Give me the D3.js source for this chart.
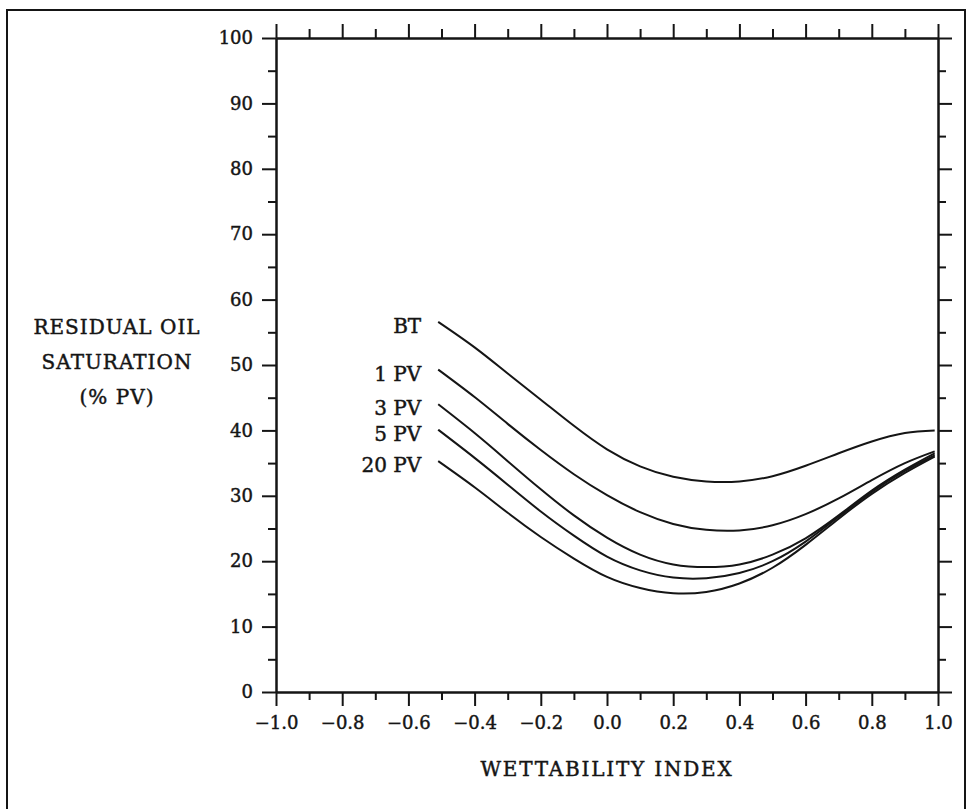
<!DOCTYPE html>
<html>
<head>
<meta charset="utf-8">
<script src="https://cdn.jsdelivr.net/npm/d3@7"></script>
<style>
  html, body { margin: 0; padding: 0; background: #fff; }
  svg { display: block; }
  text { font-family: "DejaVu Serif", "Liberation Serif", serif; fill: #151515; stroke: #151515; stroke-width: 0.45px; }
</style>
</head>
<body>
<svg id="chart" width="974" height="809"></svg>
<script>
// Wettability index sample positions shared by every curve
const wettability = [-0.51, -0.4, -0.3, -0.2, -0.1, 0.0, 0.1, 0.2, 0.3, 0.4, 0.5, 0.6, 0.7, 0.8, 0.9, 0.99];

// Residual oil saturation (% PV) after each injected volume
const seriesNames = ["BT", "1 PV", "3 PV", "5 PV", "20 PV"];
const btValues   = [56.6, 52.7, 48.7, 44.7, 40.7, 37.1, 34.5, 32.9, 32.2, 32.2, 33.0, 34.6, 36.5, 38.3, 39.6, 40.0];
const pv1Values  = [49.3, 45.1, 41.0, 37.0, 33.3, 30.1, 27.5, 25.7, 24.8, 24.7, 25.5, 27.2, 29.6, 32.4, 35.0, 36.8];
const pv3Values  = [44.0, 39.6, 35.3, 31.0, 27.0, 23.6, 21.0, 19.5, 19.1, 19.5, 21.0, 23.5, 27.0, 30.8, 34.0, 36.5];
const pv5Values  = [40.1, 35.8, 31.7, 27.6, 23.9, 20.7, 18.6, 17.5, 17.4, 18.2, 20.0, 23.0, 26.8, 30.6, 33.8, 36.2];
const pv20Values = [35.3, 31.3, 27.4, 23.7, 20.4, 17.6, 15.9, 15.1, 15.3, 16.6, 19.0, 22.5, 26.5, 30.3, 33.5, 36.0];
const seriesValues = [btValues, pv1Values, pv3Values, pv5Values, pv20Values];

// Tick values
const xMajorTicks = [-1.0, -0.8, -0.6, -0.4, -0.2, 0.0, 0.2, 0.4, 0.6, 0.8, 1.0];
const xMinorTicks = [-0.9, -0.7, -0.5, -0.3, -0.1, 0.1, 0.3, 0.5, 0.7, 0.9];
const yMajorTicks = [0, 10, 20, 30, 40, 50, 60, 70, 80, 90, 100];
const yMinorTicks = [5, 15, 25, 35, 45, 55, 65, 75, 85, 95];

const xTitle = "WETTABILITY INDEX";
const yTitleLines = ["RESIDUAL OIL", "SATURATION", "(% PV)"];

const svg = d3.select("#chart");
const ink = "#151515";

// outer frame
svg.append("rect")
  .attr("x", 7).attr("y", 10)
  .attr("width", 958).attr("height", 830)
  .attr("fill", "none").attr("stroke", ink).attr("stroke-width", 2);

const plot = { left: 276, right: 938, top: 38, bottom: 692 };

const x = d3.scaleLinear().domain([-1, 1]).range([plot.left, plot.right]);
const y = d3.scaleLinear().domain([0, 100]).range([plot.bottom, plot.top]);

function styleAxis(g) {
  g.selectAll("path.domain").attr("stroke", ink).attr("stroke-width", 2);
  g.selectAll(".tick line").attr("stroke", ink).attr("stroke-width", 2);
  g.selectAll(".tick text")
    .style("font-family", '"DejaVu Serif", serif')
    .attr("font-size", 18)
    .attr("fill", ink);
}

// bottom axis
svg.append("g").attr("transform", `translate(0,${plot.bottom})`)
  .call(d3.axisBottom(x).tickValues(xMinorTicks).tickSize(8).tickSizeOuter(0).tickFormat(""))
  .call(styleAxis);
svg.append("g").attr("transform", `translate(0,${plot.bottom})`)
  .call(d3.axisBottom(x).tickValues(xMajorTicks).tickSize(14).tickSizeOuter(0)
    .tickPadding(10).tickFormat(d3.format(".1f")))
  .call(styleAxis);

// top axis
svg.append("g").attr("transform", `translate(0,${plot.top})`)
  .call(d3.axisTop(x).tickValues(xMinorTicks).tickSize(9).tickSizeOuter(0).tickFormat(""))
  .call(styleAxis);
svg.append("g").attr("transform", `translate(0,${plot.top})`)
  .call(d3.axisTop(x).tickValues(xMajorTicks).tickSize(14).tickSizeOuter(0).tickFormat(""))
  .call(styleAxis);

// left axis
svg.append("g").attr("transform", `translate(${plot.left},0)`)
  .call(d3.axisLeft(y).tickValues(yMinorTicks).tickSize(8).tickSizeOuter(0).tickFormat(""))
  .call(styleAxis);
svg.append("g").attr("transform", `translate(${plot.left},0)`)
  .call(d3.axisLeft(y).tickValues(yMajorTicks).tickSize(14).tickSizeOuter(0)
    .tickPadding(9).tickFormat(d3.format("d")))
  .call(styleAxis);

// right axis
svg.append("g").attr("transform", `translate(${plot.right},0)`)
  .call(d3.axisRight(y).tickValues(yMinorTicks).tickSize(8).tickSizeOuter(0).tickFormat(""))
  .call(styleAxis);
svg.append("g").attr("transform", `translate(${plot.right},0)`)
  .call(d3.axisRight(y).tickValues(yMajorTicks).tickSize(14).tickSizeOuter(0).tickFormat(""))
  .call(styleAxis);

// curves
const line = d3.line()
  .x((d, i) => x(wettability[i]))
  .y(d => y(d))
  .curve(d3.curveNatural);

svg.append("g").selectAll("path.curve")
  .data(seriesValues)
  .join("path")
  .attr("class", "curve")
  .attr("d", d => line(d))
  .attr("fill", "none")
  .attr("stroke", ink)
  .attr("stroke-width", 2);

// curve labels at the left end of each curve
svg.append("g").selectAll("text.curve-label")
  .data(seriesNames)
  .join("text")
  .attr("class", "curve-label")
  .attr("x", x(wettability[0]) - 17)
  .attr("y", (d, i) => y(seriesValues[i][0]) + 4)
  .attr("dy", "0.35em")
  .attr("text-anchor", "end")
  .attr("font-size", 20)
  .text(d => d);

// x axis title
svg.append("text")
  .attr("x", x(0))
  .attr("y", 776)
  .attr("text-anchor", "middle")
  .attr("font-size", 20)
  .attr("letter-spacing", 1.8)
  .text(xTitle);

// y axis title, three centred lines
svg.append("g").selectAll("text.ytitle")
  .data(yTitleLines)
  .join("text")
  .attr("class", "ytitle")
  .attr("x", 117)
  .attr("y", (d, i) => 334 + i * 35)
  .attr("text-anchor", "middle")
  .attr("font-size", 20)
  .attr("letter-spacing", 1)
  .text(d => d);
</script>
</body>
</html>
